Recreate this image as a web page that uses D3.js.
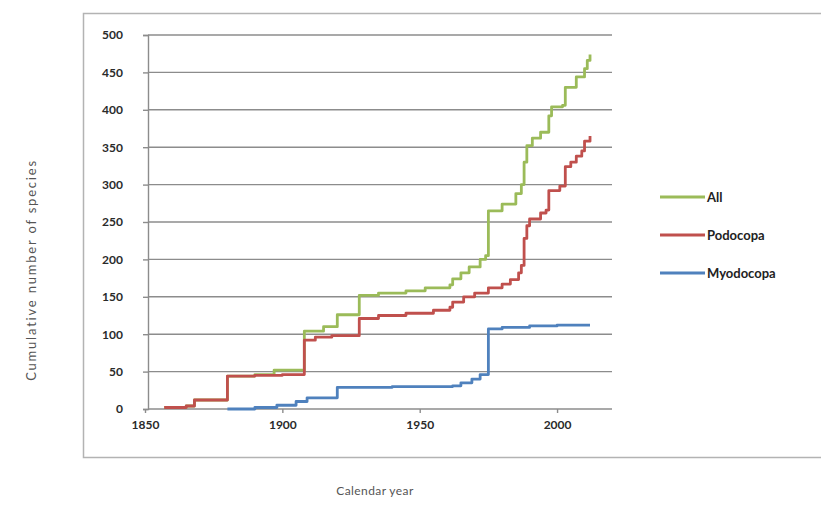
<!DOCTYPE html>
<html>
<head>
<meta charset="utf-8">
<script src="https://cdn.jsdelivr.net/npm/d3@7"></script>
<style>
  html, body { margin: 0; padding: 0; background: #fff; }
  svg { display: block; }
</style>
</head>
<body>
<svg id="chart" width="821" height="527"></svg>
<script>
// ---- Data ----
const seriesNames = ["All", "Podocopa", "Myodocopa"];
const seriesColors = ["#9BBB59", "#C0504D", "#4F81BD"];

const allYears = [1857,1865,1868,1880,1890,1897,1908,1915,1920,1928,1935,1945,1952,1961,1962,1965,1968,1972,1974,1975,1980,1985,1987,1988,1989,1991,1994,1997,1998,2002,2003,2007,2010,2011,2012];
const allValues = [2,4,12,44,46,52,104,110,126,152,155,158,162,166,174,182,190,200,205,265,274,288,300,330,352,362,370,392,404,406,430,444,455,466,474];

const podoYears = [1857,1865,1868,1880,1890,1900,1908,1912,1918,1928,1935,1945,1955,1961,1962,1966,1970,1975,1980,1983,1986,1987,1988,1989,1990,1994,1996,1997,2001,2003,2005,2007,2009,2010,2012];
const podoValues = [2,4,12,44,45,46,92,96,98,121,125,128,132,136,143,150,155,162,167,173,182,192,228,245,254,262,266,292,298,324,330,338,345,358,365];

const myoYears = [1880,1890,1898,1905,1909,1920,1940,1962,1965,1969,1972,1975,1980,1990,2000,2012];
const myoValues = [0,2,5,10,15,29,30,31,35,40,46,107,109,111,112,112];

const xTicks = [1850, 1900, 1950, 2000];
const yTicks = [0, 50, 100, 150, 200, 250, 300, 350, 400, 450, 500];
const xLabel = "Calendar year";
const yLabel = "Cumulative number of species";

// ---- Build series ----
const series = [
  { name: seriesNames[0], color: seriesColors[0], pts: allYears.map((y, i) => [y, allValues[i]]) },
  { name: seriesNames[1], color: seriesColors[1], pts: podoYears.map((y, i) => [y, podoValues[i]]) },
  { name: seriesNames[2], color: seriesColors[2], pts: myoYears.map((y, i) => [y, myoValues[i]]) }
];

// ---- Layout ----
const svg = d3.select("#chart");
const font = "Lato, 'Open Sans', sans-serif";
const plot = { left: 148, right: 612, top: 35, bottom: 409 };

svg.append("rect").attr("width", 821).attr("height", 527).attr("fill", "#fff");
// Outer chart-area border (extends past the right edge)
svg.append("rect")
  .attr("x", 83.5).attr("y", 13.5).attr("width", 760).attr("height", 444)
  .attr("fill", "#fff").attr("stroke", "#b3b3b3").attr("stroke-width", 1.5);

const x = d3.scaleLinear().domain([1850, 2020]).range([plot.left - 3, plot.right]);
const y = d3.scaleLinear().domain([0, 500]).range([plot.bottom, plot.top]);

// Gridlines
svg.append("g").selectAll("line").data(yTicks).join("line")
  .attr("x1", plot.left).attr("x2", plot.right)
  .attr("y1", d => y(d)).attr("y2", d => y(d))
  .attr("stroke", "#8c8c8c").attr("stroke-width", 1.4);

// Y axis
const yAxis = svg.append("g")
  .attr("transform", `translate(${plot.left},0)`)
  .call(d3.axisLeft(y).tickValues(yTicks).tickSize(5).tickPadding(20).tickFormat(d3.format("d")));
yAxis.select(".domain").attr("stroke", "#8c8c8c").attr("stroke-width", 1.4);
yAxis.selectAll(".tick line").attr("stroke", "#8c8c8c").attr("stroke-width", 1.4);
yAxis.selectAll("text").attr("font-family", font).attr("font-size", 12).attr("font-weight", "bold").attr("fill", "#2a2a2a");

// X axis
const xAxis = svg.append("g")
  .attr("transform", `translate(0,${plot.bottom})`)
  .call(d3.axisBottom(x).tickValues(xTicks).tickSize(4).tickPadding(7).tickFormat(d3.format("d")));
xAxis.select(".domain").remove();
xAxis.selectAll(".tick line").attr("stroke", "#8c8c8c").attr("stroke-width", 1.4);
xAxis.selectAll("text").attr("font-family", font).attr("font-size", 12).attr("font-weight", "bold").attr("fill", "#2a2a2a");

// Lines
const line = d3.line().x(d => x(d[0])).y(d => y(d[1])).curve(d3.curveStepAfter);
svg.append("g").selectAll("path").data(series).join("path")
  .attr("d", d => line(d.pts))
  .attr("fill", "none")
  .attr("stroke", d => d.color)
  .attr("stroke-width", 2.8)
  .attr("stroke-linejoin", "round");

// Legend
const legendY = [197, 235, 273];
const lg = svg.append("g").selectAll("g").data(series).join("g")
  .attr("transform", (d, i) => `translate(660,${legendY[i]})`);
lg.append("line").attr("x1", 0).attr("x2", 45).attr("y1", 0).attr("y2", 0)
  .attr("stroke", d => d.color).attr("stroke-width", 2.8);
lg.append("text").attr("x", 47).attr("y", 0).attr("dy", "0.35em")
  .attr("font-family", font).attr("font-size", 13).attr("font-weight", "bold").attr("fill", "#222")
  .text(d => d.name);

// Axis titles
svg.append("text")
  .attr("x", 375).attr("y", 495).attr("text-anchor", "middle")
  .attr("font-family", font).attr("font-size", 12).attr("fill", "#555")
  .attr("letter-spacing", 0.4)
  .text(xLabel);
svg.append("text")
  .attr("transform", "translate(36,270) rotate(-90)")
  .attr("text-anchor", "middle")
  .attr("font-family", font).attr("font-size", 13).attr("fill", "#555")
  .attr("letter-spacing", 1.8)
  .text(yLabel);
</script>
</body>
</html>
